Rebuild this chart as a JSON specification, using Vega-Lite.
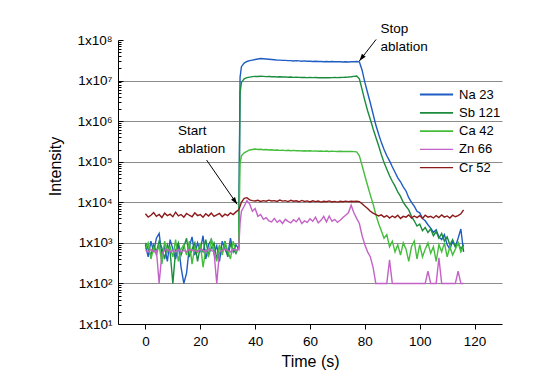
{
  "$schema": "https://vega.github.io/schema/vega-lite/v6.json",
  "width": 384,
  "height": 284,
  "autosize": {"type": "none"},
  "padding": {"left": 118, "top": 40, "right": 34, "bottom": 50},
  "background": "white",
  "config": {
    "view": {"stroke": null},
    "font": "Liberation Sans",
    "axis": {"domainColor": "black", "tickColor": "black", "labelColor": "black", "titleColor": "black", "titleFontWeight": "normal", "domainWidth": 1, "tickWidth": 1}
  },
  "datasets": {
    "series": [
      {"t":0,"Na 23":900,"Sb 121":1000,"Ca 42":700,"Zn 66":650,"Cr 52":5200},
      {"t":1,"Na 23":450,"Sb 121":700,"Ca 42":1000,"Zn 66":600,"Cr 52":4300},
      {"t":2,"Na 23":1100,"Sb 121":500,"Ca 42":400,"Zn 66":700,"Cr 52":4800},
      {"t":3,"Na 23":600,"Sb 121":900,"Ca 42":750,"Zn 66":600,"Cr 52":5600},
      {"t":4,"Na 23":1300,"Sb 121":600,"Ca 42":500,"Zn 66":650,"Cr 52":4500},
      {"t":5,"Na 23":1700,"Sb 121":1100,"Ca 42":900,"Zn 66":100,"Cr 52":5000},
      {"t":6,"Na 23":500,"Sb 121":750,"Ca 42":300,"Zn 66":550,"Cr 52":4200},
      {"t":7,"Na 23":800,"Sb 121":400,"Ca 42":1100,"Zn 66":650,"Cr 52":5400},
      {"t":8,"Na 23":350,"Sb 121":900,"Ca 42":600,"Zn 66":700,"Cr 52":4700},
      {"t":9,"Na 23":1200,"Sb 121":600,"Ca 42":800,"Zn 66":600,"Cr 52":5100},
      {"t":10,"Na 23":700,"Sb 121":100,"Ca 42":450,"Zn 66":650,"Cr 52":4400},
      {"t":11,"Na 23":400,"Sb 121":650,"Ca 42":1200,"Zn 66":600,"Cr 52":5700},
      {"t":12,"Na 23":900,"Sb 121":1000,"Ca 42":350,"Zn 66":700,"Cr 52":4600},
      {"t":13,"Na 23":250,"Sb 121":500,"Ca 42":700,"Zn 66":600,"Cr 52":5000},
      {"t":14,"Na 23":100,"Sb 121":800,"Ca 42":900,"Zn 66":650,"Cr 52":4300},
      {"t":15,"Na 23":180,"Sb 121":1300,"Ca 42":500,"Zn 66":600,"Cr 52":5300},
      {"t":16,"Na 23":800,"Sb 121":450,"Ca 42":1100,"Zn 66":700,"Cr 52":4800},
      {"t":17,"Na 23":1400,"Sb 121":700,"Ca 42":300,"Zn 66":650,"Cr 52":4400},
      {"t":18,"Na 23":500,"Sb 121":1000,"Ca 42":800,"Zn 66":650,"Cr 52":5500},
      {"t":19,"Na 23":1000,"Sb 121":350,"Ca 42":600,"Zn 66":600,"Cr 52":4700},
      {"t":20,"Na 23":650,"Sb 121":800,"Ca 42":1000,"Zn 66":700,"Cr 52":5000},
      {"t":21,"Na 23":1500,"Sb 121":600,"Ca 42":250,"Zn 66":650,"Cr 52":4300},
      {"t":22,"Na 23":400,"Sb 121":1200,"Ca 42":700,"Zn 66":600,"Cr 52":5200},
      {"t":23,"Na 23":900,"Sb 121":500,"Ca 42":450,"Zn 66":700,"Cr 52":4600},
      {"t":24,"Na 23":1200,"Sb 121":750,"Ca 42":1300,"Zn 66":650,"Cr 52":5400},
      {"t":25,"Na 23":550,"Sb 121":1000,"Ca 42":600,"Zn 66":600,"Cr 52":4500},
      {"t":26,"Na 23":850,"Sb 121":400,"Ca 42":350,"Zn 66":100,"Cr 52":4900},
      {"t":27,"Na 23":350,"Sb 121":800,"Ca 42":900,"Zn 66":600,"Cr 52":5300},
      {"t":28,"Na 23":1100,"Sb 121":600,"Ca 42":500,"Zn 66":650,"Cr 52":4400},
      {"t":29,"Na 23":700,"Sb 121":1100,"Ca 42":1000,"Zn 66":700,"Cr 52":5100},
      {"t":30,"Na 23":500,"Sb 121":450,"Ca 42":650,"Zn 66":650,"Cr 52":4700},
      {"t":31,"Na 23":1300,"Sb 121":900,"Ca 42":400,"Zn 66":600,"Cr 52":5500},
      {"t":32,"Na 23":600,"Sb 121":700,"Ca 42":1100,"Zn 66":700,"Cr 52":5000},
      {"t":33,"Na 23":900,"Sb 121":550,"Ca 42":600,"Zn 66":650,"Cr 52":5800},
      {"t":34,"Na 23":700,"Sb 121":800,"Ca 42":750,"Zn 66":700,"Cr 52":6500},
      {"t":34.5,"Na 23":12000000,"Sb 121":5000000,"Ca 42":90000,"Zn 66":3000,"Cr 52":8000},
      {"t":35,"Na 23":22000000,"Sb 121":9000000,"Ca 42":140000,"Zn 66":6000,"Cr 52":10000},
      {"t":36,"Na 23":27000000,"Sb 121":11000000,"Ca 42":165000,"Zn 66":8000,"Cr 52":12500},
      {"t":37,"Na 23":29500000,"Sb 121":11800000,"Ca 42":180000,"Zn 66":11000,"Cr 52":13000},
      {"t":38,"Na 23":31000000,"Sb 121":12200000,"Ca 42":195000,"Zn 66":9000,"Cr 52":11500},
      {"t":39,"Na 23":32000000,"Sb 121":12500000,"Ca 42":200000,"Zn 66":6000,"Cr 52":11000},
      {"t":40,"Na 23":33000000,"Sb 121":12700000,"Ca 42":205000,"Zn 66":7000,"Cr 52":10800},
      {"t":41,"Na 23":34000000,"Sb 121":12600000,"Ca 42":200000,"Zn 66":4500,"Cr 52":11200},
      {"t":42,"Na 23":35000000,"Sb 121":12800000,"Ca 42":202000,"Zn 66":5000,"Cr 52":10500},
      {"t":43,"Na 23":34500000,"Sb 121":12700000,"Ca 42":198000,"Zn 66":3800,"Cr 52":11000},
      {"t":44,"Na 23":34000000,"Sb 121":12500000,"Ca 42":200000,"Zn 66":4200,"Cr 52":10600},
      {"t":45,"Na 23":33500000,"Sb 121":12600000,"Ca 42":195000,"Zn 66":3500,"Cr 52":11300},
      {"t":46,"Na 23":33000000,"Sb 121":12400000,"Ca 42":197000,"Zn 66":3300,"Cr 52":10800},
      {"t":47,"Na 23":32500000,"Sb 121":12500000,"Ca 42":192000,"Zn 66":4000,"Cr 52":11000},
      {"t":48,"Na 23":32000000,"Sb 121":12300000,"Ca 42":195000,"Zn 66":3200,"Cr 52":10500},
      {"t":49,"Na 23":32000000,"Sb 121":12400000,"Ca 42":190000,"Zn 66":3600,"Cr 52":11400},
      {"t":50,"Na 23":31500000,"Sb 121":12200000,"Ca 42":193000,"Zn 66":3000,"Cr 52":10700},
      {"t":51,"Na 23":31500000,"Sb 121":12300000,"Ca 42":188000,"Zn 66":3800,"Cr 52":11000},
      {"t":52,"Na 23":31000000,"Sb 121":12100000,"Ca 42":191000,"Zn 66":3400,"Cr 52":10400},
      {"t":53,"Na 23":31000000,"Sb 121":12200000,"Ca 42":187000,"Zn 66":3100,"Cr 52":11200},
      {"t":54,"Na 23":30500000,"Sb 121":12000000,"Ca 42":190000,"Zn 66":3700,"Cr 52":10600},
      {"t":55,"Na 23":31000000,"Sb 121":12100000,"Ca 42":186000,"Zn 66":3300,"Cr 52":10900},
      {"t":56,"Na 23":30500000,"Sb 121":12000000,"Ca 42":188000,"Zn 66":4100,"Cr 52":10300},
      {"t":57,"Na 23":30000000,"Sb 121":11900000,"Ca 42":184000,"Zn 66":3000,"Cr 52":11100},
      {"t":58,"Na 23":30500000,"Sb 121":12000000,"Ca 42":187000,"Zn 66":3500,"Cr 52":10500},
      {"t":59,"Na 23":30000000,"Sb 121":11800000,"Ca 42":183000,"Zn 66":3200,"Cr 52":10800},
      {"t":60,"Na 23":30000000,"Sb 121":11900000,"Ca 42":186000,"Zn 66":3900,"Cr 52":10200},
      {"t":61,"Na 23":29500000,"Sb 121":11800000,"Ca 42":182000,"Zn 66":3400,"Cr 52":10900},
      {"t":62,"Na 23":30000000,"Sb 121":11900000,"Ca 42":185000,"Zn 66":4300,"Cr 52":10400},
      {"t":63,"Na 23":29500000,"Sb 121":11700000,"Ca 42":181000,"Zn 66":3100,"Cr 52":10700},
      {"t":64,"Na 23":29500000,"Sb 121":11800000,"Ca 42":184000,"Zn 66":3600,"Cr 52":10100},
      {"t":65,"Na 23":29000000,"Sb 121":11700000,"Ca 42":180000,"Zn 66":4500,"Cr 52":10600},
      {"t":66,"Na 23":29500000,"Sb 121":11800000,"Ca 42":183000,"Zn 66":3300,"Cr 52":10300},
      {"t":67,"Na 23":29000000,"Sb 121":11700000,"Ca 42":179000,"Zn 66":4600,"Cr 52":10800},
      {"t":68,"Na 23":29500000,"Sb 121":11800000,"Ca 42":182000,"Zn 66":3400,"Cr 52":10200},
      {"t":69,"Na 23":29000000,"Sb 121":11900000,"Ca 42":180000,"Zn 66":3800,"Cr 52":10500},
      {"t":70,"Na 23":29000000,"Sb 121":11800000,"Ca 42":178000,"Zn 66":3200,"Cr 52":10100},
      {"t":71,"Na 23":29000000,"Sb 121":11900000,"Ca 42":181000,"Zn 66":3600,"Cr 52":10600},
      {"t":72,"Na 23":28800000,"Sb 121":12000000,"Ca 42":179000,"Zn 66":4200,"Cr 52":10300},
      {"t":73,"Na 23":29000000,"Sb 121":12100000,"Ca 42":180000,"Zn 66":4800,"Cr 52":10700},
      {"t":74,"Na 23":28800000,"Sb 121":12200000,"Ca 42":178000,"Zn 66":5500,"Cr 52":10400},
      {"t":75,"Na 23":29000000,"Sb 121":12400000,"Ca 42":179000,"Zn 66":8500,"Cr 52":10600},
      {"t":76,"Na 23":29000000,"Sb 121":12700000,"Ca 42":177000,"Zn 66":5500,"Cr 52":10500},
      {"t":77,"Na 23":29500000,"Sb 121":13000000,"Ca 42":175000,"Zn 66":4000,"Cr 52":10600},
      {"t":78,"Na 23":29000000,"Sb 121":11000000,"Ca 42":140000,"Zn 66":3000,"Cr 52":10400},
      {"t":79,"Na 23":18000000,"Sb 121":6000000,"Ca 42":80000,"Zn 66":1500,"Cr 52":9200},
      {"t":80,"Na 23":9000000,"Sb 121":3200000,"Ca 42":45000,"Zn 66":900,"Cr 52":8000},
      {"t":81,"Na 23":5000000,"Sb 121":1800000,"Ca 42":26000,"Zn 66":600,"Cr 52":7000},
      {"t":82,"Na 23":2800000,"Sb 121":1100000,"Ca 42":15000,"Zn 66":450,"Cr 52":6000},
      {"t":83,"Na 23":1500000,"Sb 121":650000,"Ca 42":9000,"Zn 66":250,"Cr 52":5400},
      {"t":84,"Na 23":800000,"Sb 121":400000,"Ca 42":5000,"Zn 66":100,"Cr 52":5000},
      {"t":85,"Na 23":480000,"Sb 121":250000,"Ca 42":3000,"Zn 66":100,"Cr 52":4600},
      {"t":86,"Na 23":300000,"Sb 121":150000,"Ca 42":2000,"Zn 66":100,"Cr 52":4900},
      {"t":87,"Na 23":200000,"Sb 121":95000,"Ca 42":1300,"Zn 66":100,"Cr 52":4300},
      {"t":88,"Na 23":140000,"Sb 121":65000,"Ca 42":1600,"Zn 66":100,"Cr 52":4700},
      {"t":89,"Na 23":105000,"Sb 121":45000,"Ca 42":800,"Zn 66":380,"Cr 52":4100},
      {"t":90,"Na 23":75000,"Sb 121":33000,"Ca 42":1100,"Zn 66":100,"Cr 52":4600},
      {"t":91,"Na 23":55000,"Sb 121":25000,"Ca 42":600,"Zn 66":100,"Cr 52":4200},
      {"t":92,"Na 23":40000,"Sb 121":18000,"Ca 42":900,"Zn 66":100,"Cr 52":4800},
      {"t":93,"Na 23":32000,"Sb 121":14000,"Ca 42":500,"Zn 66":100,"Cr 52":4000},
      {"t":94,"Na 23":24000,"Sb 121":10000,"Ca 42":1000,"Zn 66":100,"Cr 52":4500},
      {"t":95,"Na 23":19000,"Sb 121":8000,"Ca 42":700,"Zn 66":100,"Cr 52":4300},
      {"t":96,"Na 23":13000,"Sb 121":6500,"Ca 42":350,"Zn 66":100,"Cr 52":4900},
      {"t":97,"Na 23":10000,"Sb 121":4500,"Ca 42":800,"Zn 66":100,"Cr 52":4100},
      {"t":98,"Na 23":8000,"Sb 121":3500,"Ca 42":1100,"Zn 66":100,"Cr 52":4600},
      {"t":99,"Na 23":6000,"Sb 121":2600,"Ca 42":400,"Zn 66":100,"Cr 52":4200},
      {"t":100,"Na 23":5500,"Sb 121":2900,"Ca 42":900,"Zn 66":100,"Cr 52":4700},
      {"t":101,"Na 23":4000,"Sb 121":2000,"Ca 42":450,"Zn 66":100,"Cr 52":4000},
      {"t":102,"Na 23":3500,"Sb 121":2400,"Ca 42":700,"Zn 66":100,"Cr 52":4800},
      {"t":103,"Na 23":2800,"Sb 121":1800,"Ca 42":1000,"Zn 66":200,"Cr 52":4300},
      {"t":104,"Na 23":2300,"Sb 121":2200,"Ca 42":550,"Zn 66":100,"Cr 52":4500},
      {"t":105,"Na 23":1800,"Sb 121":1500,"Ca 42":800,"Zn 66":100,"Cr 52":4100},
      {"t":106,"Na 23":2100,"Sb 121":1900,"Ca 42":350,"Zn 66":100,"Cr 52":4700},
      {"t":107,"Na 23":1400,"Sb 121":1300,"Ca 42":900,"Zn 66":430,"Cr 52":4200},
      {"t":108,"Na 23":1200,"Sb 121":1700,"Ca 42":600,"Zn 66":100,"Cr 52":4900},
      {"t":109,"Na 23":1600,"Sb 121":1100,"Ca 42":1000,"Zn 66":100,"Cr 52":4300},
      {"t":110,"Na 23":900,"Sb 121":1400,"Ca 42":450,"Zn 66":100,"Cr 52":4600},
      {"t":111,"Na 23":700,"Sb 121":900,"Ca 42":800,"Zn 66":100,"Cr 52":4100},
      {"t":112,"Na 23":1100,"Sb 121":1200,"Ca 42":500,"Zn 66":100,"Cr 52":4800},
      {"t":113,"Na 23":800,"Sb 121":800,"Ca 42":700,"Zn 66":100,"Cr 52":4400},
      {"t":114,"Na 23":1300,"Sb 121":1000,"Ca 42":1000,"Zn 66":200,"Cr 52":4700},
      {"t":115,"Na 23":2200,"Sb 121":700,"Ca 42":600,"Zn 66":100,"Cr 52":5200},
      {"t":116,"Na 23":600,"Sb 121":900,"Ca 42":800,"Zn 66":100,"Cr 52":6500}
    ]
  },
  "layer": [
    {
      "data": {"name": "series"},
      "transform": [{"fold": ["Na 23", "Sb 121", "Ca 42", "Zn 66", "Cr 52"], "as": ["element", "v"]}],
      "mark": {"type": "line", "strokeWidth": 1.4},
      "encoding": {
        "x": {
          "field": "t", "type": "quantitative",
          "scale": {"domain": [-10, 130], "nice": false, "zero": false},
          "axis": {
            "values": [0, 20, 40, 60, 80, 100, 120],
            "tickSize": 5,
            "grid": false,
            "labelFontSize": 13.5,
            "labelPadding": 5,
            "title": "Time (s)",
            "titleFontSize": 16,
            "titlePadding": 6
          }
        },
        "y": {
          "field": "v", "type": "quantitative",
          "scale": {"type": "log", "domain": [10, 100000000], "nice": false},
          "axis": {
            "values": [10,20,30,40,50,60,70,80,90,100,200,300,400,500,600,700,800,900,1000,2000,3000,4000,5000,6000,7000,8000,9000,10000,20000,30000,40000,50000,60000,70000,80000,90000,100000,200000,300000,400000,500000,600000,700000,800000,900000,1000000,2000000,3000000,4000000,5000000,6000000,7000000,8000000,9000000,10000000,20000000,30000000,40000000,50000000,60000000,70000000,80000000,90000000,100000000],
            "labelExpr": "abs(log(datum.value)/LN10 - round(log(datum.value)/LN10)) < 0.001 ? '1x10' + ['⁰','¹','²','³','⁴','⁵','⁶','⁷','⁸'][round(log(datum.value)/LN10)] : ''",
            "tickSize": -5,
            "tickDash": {"condition": {"test": "abs(log(datum.value)/LN10 - round(log(datum.value)/LN10)) < 0.001", "value": [10, 0]}, "value": [3, 10]},
            "grid": true,
            "gridColor": "#8c8c8c",
            "gridWidth": 1.2,
            "gridOpacity": {"condition": {"test": "abs(log(datum.value)/LN10 - round(log(datum.value)/LN10)) < 0.001 && datum.value >= 100 && datum.value <= 10000000", "value": 1}, "value": 0},
            "labelFontSize": 13.5,
            "labelPadding": 11,
            "labelOverlap": false,
            "labelFlush": false,
            "labelBound": false,
            "title": "Intensity",
            "titleFontSize": 16,
            "titleAngle": -90,
            "titleX": -63,
            "titleY": 126,
            "titleAlign": "center",
            "titleBaseline": "middle"
          }
        },
        "color": {
          "field": "element", "type": "nominal",
          "sort": ["Na 23", "Sb 121", "Ca 42", "Zn 66", "Cr 52"],
          "scale": {"domain": ["Na 23", "Sb 121", "Ca 42", "Zn 66", "Cr 52"], "range": ["#1f5cc4", "#1a8c3c", "#44bd3c", "#c462c8", "#8b1a1a"]},
          "legend": {
            "title": null,
            "orient": "none",
            "legendX": 312,
            "legendY": 48,
            "padding": 0,
            "symbolType": "M-5,0H5",
            "symbolSize": 44,
            "symbolStrokeWidth": 1.5,
            "labelFontSize": 13,
            "labelColor": "black",
            "labelOffset": 16,
            "rowPadding": 4.3
          }
        },
        "strokeWidth": {
          "field": "element", "type": "nominal",
          "scale": {"domain": ["Na 23", "Sb 121", "Ca 42", "Zn 66", "Cr 52"], "range": [1.8, 1.3, 1.3, 1.1, 1.6]},
          "legend": null
        }
      }
    },
    {
      "data": {"values": [
        {"t": 85.7, "v": 192000000, "label": "Stop\nablation"},
        {"t": 11.9, "v": 568000, "label": "Start\nablation"}
      ]},
      "mark": {"type": "text", "align": "left", "baseline": "middle", "lineBreak": "\n", "fontSize": 13.5, "lineHeight": 18, "color": "black"},
      "encoding": {
        "x": {"field": "t", "type": "quantitative"},
        "y": {"field": "v", "type": "quantitative"},
        "text": {"field": "label"}
      }
    },
    {
      "data": {"values": [
        {"t": 84.1, "v": 103000000, "t2": 78.0, "v2": 30500000},
        {"t": 22.3, "v": 110000, "t2": 33.45, "v2": 8900}
      ]},
      "mark": {"type": "rule", "color": "black", "strokeWidth": 1},
      "encoding": {
        "x": {"field": "t", "type": "quantitative"},
        "y": {"field": "v", "type": "quantitative"},
        "x2": {"field": "t2"},
        "y2": {"field": "v2"}
      }
    },
    {
      "data": {"values": [{"t": 78.0, "v": 30500000}]},
      "mark": {"type": "point", "shape": "M0,0L-0.6,1.8L0.6,1.8Z", "filled": true, "color": "black", "size": 64, "angle": 218, "opacity": 1},
      "encoding": {
        "x": {"field": "t", "type": "quantitative"},
        "y": {"field": "v", "type": "quantitative"}
      }
    },
    {
      "data": {"values": [{"t": 33.45, "v": 8900}]},
      "mark": {"type": "point", "shape": "M0,0L-0.6,1.8L0.6,1.8Z", "filled": true, "color": "black", "size": 64, "angle": 145, "opacity": 1},
      "encoding": {
        "x": {"field": "t", "type": "quantitative"},
        "y": {"field": "v", "type": "quantitative"}
      }
    }
  ]
}
